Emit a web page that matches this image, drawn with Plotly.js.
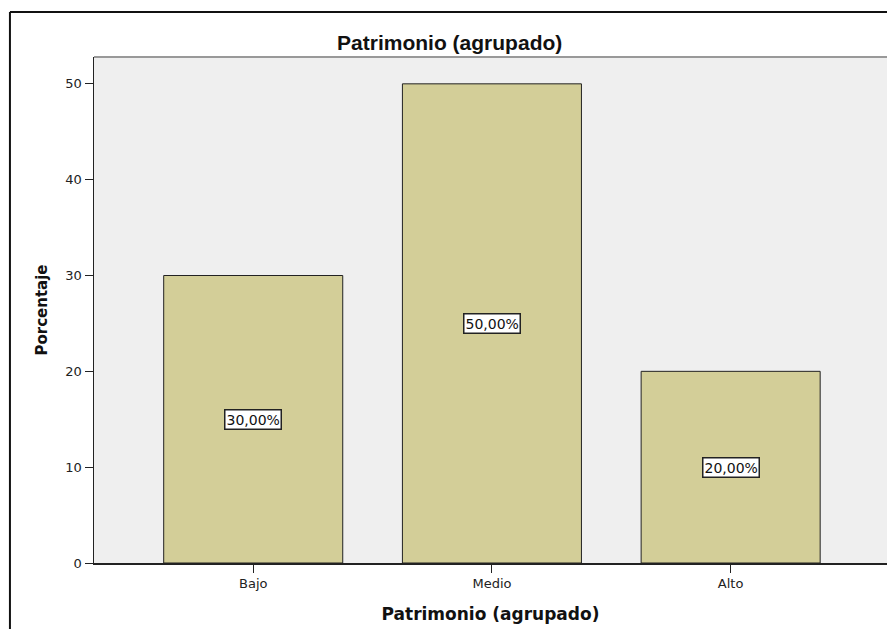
<!DOCTYPE html>
<html>
<head>
<meta charset="utf-8">
<script src="https://cdn.plot.ly/plotly-3.0.1.min.js"></script>
<style>
html,body{margin:0;padding:0;background:#fff;}
#chart{width:887px;height:629px;}
</style>
</head>
<body>
<div id="chart"></div>
<script>
const categories = ["Bajo", "Medio", "Alto"];
const percentages = [30, 50, 20];
const barLabels = ["30,00%", "50,00%", "20,00%"];
const yTicks = [0, 10, 20, 30, 40, 50];

const sans = "DejaVu Sans, Verdana, sans-serif";
const arial = "Liberation Sans, Arial, sans-serif";

const trace = {
  type: "bar",
  x: categories,
  y: percentages,
  width: 0.75,
  marker: {color: "#d3ce98", line: {color: "#222", width: 1}},
  hoverinfo: "none"
};

const annotations = categories.map((c, i) => ({
  x: c, y: percentages[i] / 2, xref: "x", yref: "y",
  text: barLabels[i], showarrow: false,
  bgcolor: "#ffffff", bordercolor: "#222", borderwidth: 1.5, borderpad: 1,
  font: {family: sans, size: 14, color: "#111"}
}));

const layout = {
  width: 887, height: 629,
  margin: {l: 94, r: 0, t: 57, b: 66},
  paper_bgcolor: "#ffffff",
  plot_bgcolor: "#efefef",
  showlegend: false,
  title: {text: "<b>Patrimonio (agrupado)</b>", xref: "container", x: 0.507, y: 0.932, yanchor: "middle",
          font: {family: arial, size: 21, color: "#111"}},
  xaxis: {
    type: "category", range: [-0.667, 2.655],
    showline: true, linecolor: "#222", linewidth: 1.5,
    ticks: "outside", ticklen: 8, tickcolor: "#222", tickwidth: 1,
    tickfont: {family: sans, size: 13, color: "#222"},
    showgrid: false, zeroline: false, fixedrange: true,
    title: {text: "<b>Patrimonio (agrupado)</b>", standoff: 18,
            font: {family: sans, size: 17, color: "#111"}}
  },
  yaxis: {
    range: [0, 52.8], tickvals: yTicks, ticktext: yTicks.map(String),
    showline: true, linecolor: "#222", linewidth: 1.5,
    ticks: "outside", ticklen: 8, tickcolor: "#222", tickwidth: 1,
    tickfont: {family: sans, size: 13, color: "#222"},
    showgrid: false, zeroline: false, fixedrange: true,
    title: {text: "<b>Porcentaje</b>", standoff: 14,
            font: {family: sans, size: 15, color: "#111"}}
  },
  annotations: annotations,
  shapes: [
    {type: "line", xref: "paper", yref: "paper", x0: 0, x1: 1.01, y0: 1, y1: 1,
     line: {color: "#999", width: 2}},
    {type: "line", xref: "paper", yref: "paper", x0: -0.106, x1: 1.01, y0: 1.089, y1: 1.089,
     line: {color: "#111", width: 2}},
    {type: "line", xref: "paper", yref: "paper", x0: -0.106, x1: -0.106, y0: 1.089, y1: -0.2,
     line: {color: "#111", width: 2}}
  ]
};

Plotly.newPlot("chart", [trace], layout, {displayModeBar: false, staticPlot: true});
</script>
</body>
</html>
